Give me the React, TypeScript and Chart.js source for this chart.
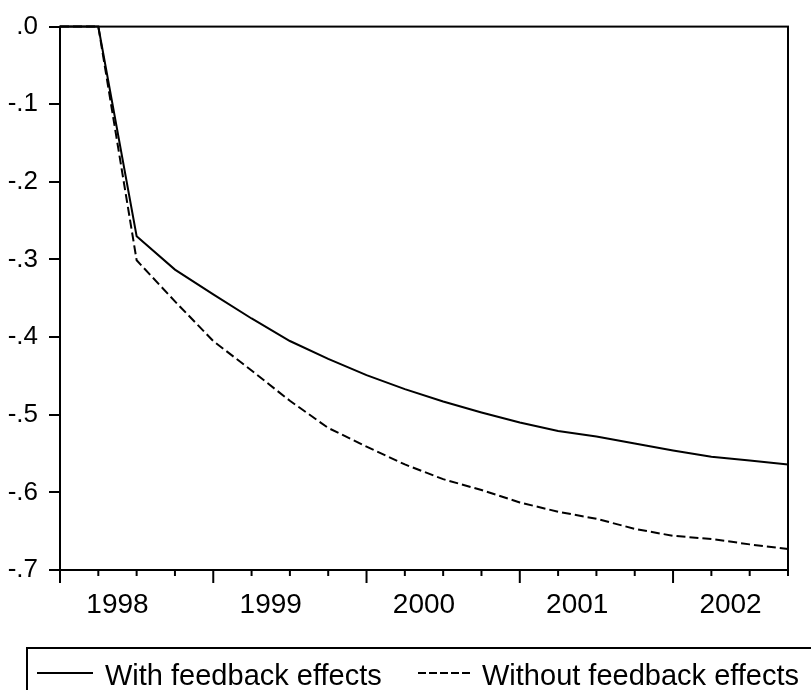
import React, { useEffect, useRef } from "react";
import { Chart, registerables } from "chart.js";

Chart.register(...registerables);

const quarters = [
  "1998Q1", "1998Q2", "1998Q3", "1998Q4",
  "1999Q1", "1999Q2", "1999Q3", "1999Q4",
  "2000Q1", "2000Q2", "2000Q3", "2000Q4",
  "2001Q1", "2001Q2", "2001Q3", "2001Q4",
  "2002Q1", "2002Q2", "2002Q3", "2002Q4",
];

const withFeedback = [
  0, 0, -0.270, -0.313, -0.345, -0.376, -0.405, -0.428, -0.449, -0.467,
  -0.483, -0.497, -0.510, -0.521, -0.528, -0.537, -0.546, -0.554, -0.559, -0.564,
];

const withoutFeedback = [
  0, 0, -0.301, -0.354, -0.405, -0.443, -0.482, -0.517, -0.541, -0.564,
  -0.583, -0.597, -0.613, -0.625, -0.634, -0.647, -0.656, -0.660, -0.667, -0.673,
];

const seriesNames = ["With feedback effects", "Without feedback effects"];
const yTicks = [0, -0.1, -0.2, -0.3, -0.4, -0.5, -0.6, -0.7];

const FONT = '"Liberation Sans", Arial, sans-serif';

const fmtY = (v: number) => {
  const r = Math.round(v * 10) / 10;
  if (r === 0) return ".0";
  return r.toFixed(1).replace("0.", ".");
};

const decor = {
  id: "decor",
  afterDraw(chart: any) {
    const { ctx, chartArea: a } = chart;
    const x = chart.scales.x;
    ctx.save();
    ctx.strokeStyle = "#000";
    ctx.fillStyle = "#000";
    ctx.lineWidth = 2;
    ctx.setLineDash([]);
    ctx.strokeRect(a.left, a.top, a.right - a.left, a.bottom - a.top);

    // x-axis ticks
    quarters.forEach((q, i) => {
      const px = x.getPixelForValue(i);
      const major = q.endsWith("Q1");
      ctx.beginPath();
      ctx.moveTo(px, a.bottom);
      ctx.lineTo(px, a.bottom + (major ? 13 : 6));
      ctx.stroke();
    });

    // year labels, centred on each year
    ctx.font = "28px " + FONT;
    ctx.textAlign = "center";
    ctx.textBaseline = "alphabetic";
    quarters.forEach((q, i) => {
      if (q.endsWith("Q1")) {
        ctx.fillText(q.slice(0, 4), x.getPixelForValue(i + 1.5), a.bottom + 43);
      }
    });

    // legend
    const lt = 648;
    ctx.lineWidth = 2;
    ctx.strokeRect(27, lt, chart.width, 100);
    const ly = lt + 25;
    ctx.font = "29px " + FONT;
    ctx.textAlign = "left";
    ctx.beginPath();
    ctx.moveTo(37, ly);
    ctx.lineTo(93, ly);
    ctx.stroke();
    ctx.fillText(seriesNames[0], 105, lt + 37);
    ctx.setLineDash([8, 3]);
    ctx.beginPath();
    ctx.moveTo(418, ly);
    ctx.lineTo(471, ly);
    ctx.stroke();
    ctx.setLineDash([]);
    ctx.fillText(seriesNames[1], 482, lt + 37);
    ctx.restore();
  },
};

export default function App() {
  const ref = useRef<HTMLCanvasElement | null>(null);
  useEffect(() => {
    if (!ref.current) return;
    const chart = new Chart(ref.current, {
      type: "line",
      data: {
        datasets: [
          {
            label: seriesNames[0],
            data: withFeedback.map((v, i) => ({ x: i, y: v })),
            borderColor: "#000",
            borderWidth: 2,
            pointRadius: 0,
            tension: 0,
            fill: false,
            clip: false,
          },
          {
            label: seriesNames[1],
            data: withoutFeedback.map((v, i) => ({ x: i, y: v })),
            borderColor: "#000",
            borderWidth: 2,
            borderDash: [9, 4],
            pointRadius: 0,
            tension: 0,
            fill: false,
            clip: false,
          },
        ],
      },
      options: {
        animation: false,
        responsive: false,
        maintainAspectRatio: false,
        layout: { padding: { left: 0, top: 21, right: 23, bottom: 120 } },
        plugins: { legend: { display: false }, tooltip: { enabled: false } },
        scales: {
          x: {
            type: "linear",
            display: false,
            min: 0,
            max: quarters.length - 1,
          },
          y: {
            min: -0.7,
            max: 0,
            afterFit: (s: any) => {
              s.width = 60;
            },
            afterBuildTicks: (s: any) => {
              s.ticks = yTicks.map((v) => ({ value: v }));
            },
            border: { display: false },
            grid: {
              drawOnChartArea: false,
              drawTicks: true,
              tickLength: 11,
              color: "#000",
              lineWidth: 2,
            },
            ticks: {
              padding: 11,
              color: "#000",
              font: { family: FONT, size: 26 },
              callback: (v: any) => fmtY(Number(v)),
            },
          },
        },
      },
      plugins: [decor],
    });
    return () => chart.destroy();
  }, []);
  return (
    <div style={{ position: "absolute", left: 0, top: 0, width: 811, height: 690, background: "#fff" }}>
      <canvas ref={ref} width={811} height={690} />
    </div>
  );
}
